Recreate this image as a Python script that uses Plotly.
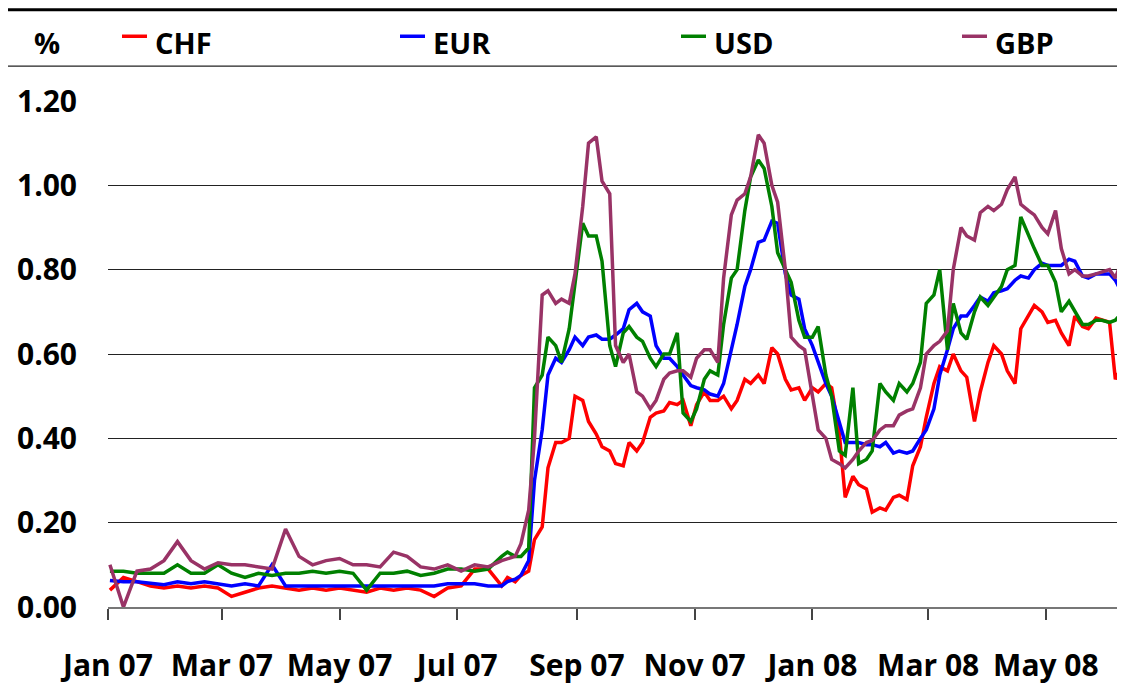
import pandas as pd
import plotly.graph_objects as go

# dates: weekly up to end of July 2007, then Tuesdays and Fridays
weekly_dates = list(pd.date_range("2007-01-02", "2007-07-24", freq="7D"))
twice_dates = sorted(
    list(pd.date_range("2007-07-27", "2008-06-10", freq="W-FRI"))
    + list(pd.date_range("2007-07-27", "2008-06-10", freq="W-TUE"))
)
dates = weekly_dates + twice_dates

# values in %
chf_weekly = [0.04, 0.07, 0.06, 0.05, 0.045, 0.05, 0.045, 0.05, 0.045, 0.025,
              0.035, 0.045, 0.05, 0.045, 0.04, 0.045, 0.04, 0.045, 0.04, 0.035,
              0.045, 0.04, 0.045, 0.04, 0.025, 0.045, 0.05, 0.09, 0.09, 0.05]
chf_twice = [0.07, 0.06, 0.075, 0.085, 0.16, 0.19, 0.33, 0.39, 0.39, 0.40, 0.50,  # Jul-Aug
             0.49, 0.44, 0.41, 0.38, 0.37, 0.34, 0.335, 0.39,  # Sep
             0.37, 0.39, 0.45, 0.46, 0.465, 0.485, 0.48, 0.49, 0.43,  # Oct
             0.48, 0.51, 0.49, 0.49, 0.50, 0.47, 0.49, 0.54, 0.53,  # Nov
             0.55, 0.53, 0.615, 0.60, 0.54, 0.515, 0.52, 0.49,  # Dec
             0.52, 0.51, 0.53, 0.52, 0.41, 0.26, 0.31, 0.29, 0.28,  # Jan
             0.225, 0.235, 0.23, 0.26, 0.265, 0.255, 0.335, 0.38, 0.45,  # Feb
             0.53, 0.57, 0.56, 0.60, 0.56, 0.545, 0.44, 0.51,  # Mar
             0.58, 0.62, 0.60, 0.56, 0.53, 0.66, 0.69, 0.715, 0.70,  # Apr
             0.675, 0.68, 0.65, 0.62, 0.69, 0.665, 0.66, 0.685, 0.68,  # May
             0.675, 0.54, 0.575]  # Jun

eur_weekly = [0.063, 0.06, 0.06, 0.057, 0.053, 0.06, 0.055, 0.06, 0.055, 0.05,
              0.055, 0.05, 0.10, 0.05, 0.05, 0.05, 0.05, 0.052, 0.05, 0.05,
              0.05, 0.05, 0.05, 0.05, 0.05, 0.055, 0.055, 0.055, 0.05, 0.05]
eur_twice = [0.06, 0.066, 0.075, 0.11, 0.30, 0.42, 0.55, 0.59, 0.58, 0.61, 0.64,
             0.62, 0.64, 0.645, 0.635, 0.635, 0.645, 0.66, 0.705,
             0.72, 0.70, 0.69, 0.62, 0.59, 0.59, 0.57, 0.55, 0.525,
             0.52, 0.515, 0.505, 0.50, 0.53, 0.61, 0.67, 0.76, 0.80,
             0.865, 0.87, 0.915, 0.91, 0.79, 0.74, 0.73, 0.66,
             0.62, 0.58, 0.53, 0.50, 0.44, 0.39, 0.39, 0.39, 0.385,
             0.385, 0.38, 0.39, 0.365, 0.37, 0.365, 0.37, 0.40, 0.42,
             0.47, 0.55, 0.61, 0.66, 0.69, 0.69, 0.715, 0.735,
             0.725, 0.745, 0.75, 0.755, 0.775, 0.785, 0.78, 0.80, 0.815,
             0.81, 0.81, 0.81, 0.825, 0.82, 0.785, 0.78, 0.79, 0.79,
             0.79, 0.775, 0.74]

usd_weekly = [0.085, 0.085, 0.08, 0.08, 0.08, 0.10, 0.08, 0.08, 0.10, 0.08,
              0.07, 0.08, 0.075, 0.08, 0.08, 0.085, 0.08, 0.085, 0.08, 0.04,
              0.08, 0.08, 0.085, 0.075, 0.08, 0.09, 0.09, 0.085, 0.09, 0.12]
usd_twice = [0.13, 0.12, 0.12, 0.14, 0.52, 0.55, 0.64, 0.62, 0.58, 0.66, 0.77,
             0.91, 0.88, 0.88, 0.82, 0.62, 0.57, 0.65, 0.665,
             0.64, 0.63, 0.59, 0.57, 0.60, 0.60, 0.65, 0.46, 0.44,
             0.47, 0.54, 0.56, 0.55, 0.67, 0.78, 0.80, 0.94, 1.02,
             1.06, 1.04, 0.95, 0.84, 0.80, 0.77, 0.68, 0.64,
             0.64, 0.665, 0.55, 0.50, 0.37, 0.36, 0.52, 0.34, 0.35,
             0.37, 0.53, 0.51, 0.49, 0.53, 0.51, 0.53, 0.58, 0.72,
             0.74, 0.80, 0.61, 0.72, 0.65, 0.635, 0.70, 0.735,
             0.715, 0.735, 0.76, 0.80, 0.81, 0.925, 0.88, 0.85, 0.81,
             0.81, 0.77, 0.70, 0.725, 0.70, 0.67, 0.67, 0.68, 0.68,
             0.675, 0.68, 0.70]

gbp_weekly = [0.10, 0.0, 0.085, 0.09, 0.11, 0.155, 0.11, 0.09, 0.105, 0.10,
              0.10, 0.095, 0.09, 0.185, 0.12, 0.10, 0.11, 0.115, 0.10, 0.10,
              0.095, 0.13, 0.12, 0.095, 0.09, 0.10, 0.085, 0.10, 0.095, 0.11]
gbp_twice = [0.115, 0.12, 0.15, 0.23, 0.40, 0.74, 0.75, 0.72, 0.73, 0.72, 0.79,
             0.95, 1.10, 1.115, 1.01, 0.98, 0.62, 0.58, 0.60,
             0.51, 0.50, 0.47, 0.49, 0.54, 0.555, 0.56, 0.56, 0.545,
             0.59, 0.61, 0.61, 0.58, 0.78, 0.93, 0.965, 0.98, 1.02,
             1.12, 1.10, 1.0, 0.96, 0.80, 0.64, 0.62, 0.61,
             0.50, 0.42, 0.40, 0.35, 0.34, 0.33, 0.35, 0.37, 0.39,
             0.395, 0.42, 0.43, 0.43, 0.455, 0.465, 0.47, 0.52, 0.60,
             0.62, 0.63, 0.655, 0.80, 0.90, 0.88, 0.87, 0.935,
             0.95, 0.94, 0.955, 0.99, 1.02, 0.955, 0.94, 0.93, 0.90,
             0.885, 0.94, 0.85, 0.79, 0.80, 0.785, 0.785, 0.79, 0.795,
             0.80, 0.78, 0.83]

series = [
    ("CHF", chf_weekly + chf_twice, "#ff0000"),
    ("EUR", eur_weekly + eur_twice, "#0000ff"),
    ("USD", usd_weekly + usd_twice, "#008000"),
    ("GBP", gbp_weekly + gbp_twice, "#993366"),
]

tick_dates = pd.date_range("2007-01-01", "2008-05-01", freq="2MS")
tick_labels = ["Jan 07", "Mar 07", "May 07", "Jul 07", "Sep 07",
               "Nov 07", "Jan 08", "Mar 08", "May 08"]

font_family = "Open Sans"

# the page puts the figure 8px in from the top-left corner, so the figure is
# 8px smaller than the window. plot area (window pixels): x 108-1125, y 101-609
def px_x(p):
    return (p - 108) / 1017

def px_y(p):
    return (609 - p) / 508

fig = go.Figure()
for name, vals, col in series:
    assert len(vals) == len(dates)
    fig.add_trace(go.Scatter(x=dates, y=vals, name=name, mode="lines",
                             line=dict(color=col, width=3.5)))

fig.update_layout(
    width=1117, height=677,
    margin=dict(l=100, r=0, t=93, b=76),
    paper_bgcolor="white", plot_bgcolor="white",
    font=dict(family=font_family, size=30, color="black", weight="bold"),
    showlegend=False,
)

fig.update_yaxes(range=[0, 1.2], tick0=0, dtick=0.2, tickformat=".2f",
                 showgrid=True, gridcolor="#222222", gridwidth=1,
                 zeroline=False, showline=False, ticks="",
                 ticklabelstandoff=30,
                 tickfont=dict(family=font_family, size=30, weight="bold"))

fig.update_xaxes(type="date", range=["2007-01-01", "2008-06-11"],
                 tickvals=tick_dates, ticktext=tick_labels,
                 showgrid=False, zeroline=False,
                 showline=True, linecolor="#777777", linewidth=1.5,
                 ticks="outside", ticklen=11, tickcolor="#444444", tickwidth=1.5,
                 ticklabelstandoff=20,
                 tickfont=dict(family=font_family, size=30, weight="bold"))

# header rules above and below the legend
fig.add_shape(type="line", xref="paper", yref="paper",
              x0=px_x(8), x1=1, y0=px_y(9.5), y1=px_y(9.5),
              line=dict(color="black", width=3))
fig.add_shape(type="line", xref="paper", yref="paper",
              x0=px_x(8), x1=1, y0=px_y(66), y1=px_y(66),
              line=dict(color="#222222", width=1.2))

fig.add_annotation(text="%", xref="paper", yref="paper",
                   x=px_x(47), y=px_y(42), xanchor="center", yanchor="middle",
                   showarrow=False,
                   font=dict(family=font_family, size=29, weight="bold"))

# legend drawn by hand across the header
legend_left = [122, 400, 681, 962]
for (name, vals, col), lx in zip(series, legend_left):
    fig.add_shape(type="line", xref="paper", yref="paper",
                  x0=px_x(lx), x1=px_x(lx + 25), y0=px_y(36), y1=px_y(36),
                  line=dict(color=col, width=3.5))
    fig.add_annotation(text=name, xref="paper", yref="paper",
                       x=px_x(lx + 31), y=px_y(42), xanchor="left",
                       yanchor="middle", showarrow=False,
                       font=dict(family=font_family, size=29, weight="bold"))

fig.write_html("out.html")
